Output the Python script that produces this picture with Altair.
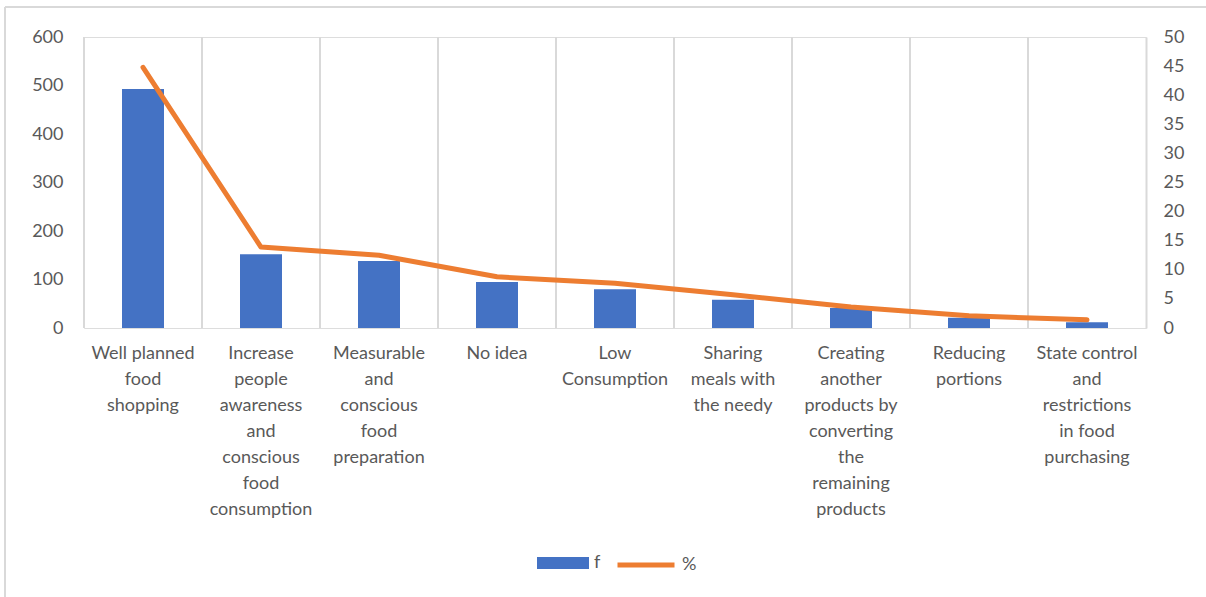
import altair as alt
import pandas as pd

categories = [
    "Well planned\nfood\nshopping",
    "Increase\npeople\nawareness\nand\nconscious\nfood\nconsumption",
    "Measurable\nand\nconscious\nfood\npreparation",
    "No idea",
    "Low\nConsumption",
    "Sharing\nmeals with\nthe needy",
    "Creating\nanother\nproducts by\nconverting\nthe\nremaining\nproducts",
    "Reducing\nportions",
    "State control\nand\nrestrictions\nin food\npurchasing",
]
f_values = [493, 152, 138, 95, 80, 58, 41, 21, 12]
pct_values = [44.8, 13.9, 12.5, 8.8, 7.7, 5.7, 3.6, 2.1, 1.4]
left_ticks = [0, 100, 200, 300, 400, 500, 600]
right_ticks = [0, 5, 10, 15, 20, 25, 30, 35, 40, 45, 50]

BLUE = "#4472C4"
ORANGE = "#ED7D31"
GRID = "#D9D9D9"
TEXT = "#595959"
FONT = "Lato"

df = pd.DataFrame({
    "cat": categories,
    "f": f_values,
    "pct": pct_values,
    "s1": ["f"] * len(categories),
    "s2": ["%"] * len(categories),
})
frame_df = pd.DataFrame({"k": [0]})

xenc = alt.X(
    "cat:N", sort=categories, title=None,
    scale=alt.Scale(paddingInner=0, paddingOuter=0),
    axis=alt.Axis(labelExpr="split(datum.value, '\\n')", labelAngle=0,
                  labelAlign="center",
                  labelFontSize=18, labelLineHeight=26, labelPadding=16,
                  labelBaseline="top", domain=False, ticks=False, grid=False,
                  labelColor=TEXT, labelFont=FONT, labelLimit=200),
)

bar_legend = alt.Legend(
    title=None, orient="none", direction="horizontal",
    legendX=453, legendY=500,
    symbolType="M-1,-0.23H1V0.23H-1Z", symbolSize=2704,
    symbolStrokeWidth=0, symbolOpacity=1,
    labelFontSize=18, labelColor=TEXT, labelFont=FONT, labelOffset=5,
    padding=0,
)
line_legend = alt.Legend(
    title=None, orient="none", direction="horizontal",
    legendX=531, legendY=497,
    symbolType="stroke", symbolSize=3249, symbolStrokeWidth=5, symbolOpacity=1,
    labelFontSize=18, labelColor=TEXT, labelFont=FONT, labelOffset=5,
    padding=0,
)

grid = alt.Chart(df).mark_rule(color=GRID, strokeWidth=2).encode(
    x=alt.X("cat:N", sort=categories, bandPosition=0),
)

frame_top = alt.Chart(frame_df).mark_rule(color=GRID, strokeWidth=2).encode(
    x=alt.value(-79), x2=alt.value(1122), y=alt.value(-30),
)
frame_left = alt.Chart(frame_df).mark_rule(color=GRID, strokeWidth=2).encode(
    x=alt.value(-79), y=alt.value(-30), y2=alt.value(560),
)

bars = alt.Chart(df).mark_bar(size=42).encode(
    x=xenc,
    y=alt.Y("f:Q", title=None,
            scale=alt.Scale(domain=[0, 600]),
            axis=alt.Axis(values=left_ticks, grid=False, domain=False, ticks=False,
                          labelFontSize=18, labelColor=TEXT, labelFont=FONT,
                          labelPadding=21)),
    color=alt.Color("s1:N", scale=alt.Scale(domain=["f"], range=[BLUE]),
                    legend=bar_legend),
)

left = alt.layer(frame_top, frame_left, grid, bars)

line = alt.Chart(df).mark_line(strokeWidth=5, strokeCap="round", strokeJoin="round").encode(
    x=alt.X("cat:N", sort=categories),
    y=alt.Y("pct:Q", title=None,
            scale=alt.Scale(domain=[0, 50]),
            axis=alt.Axis(values=right_ticks, grid=False, domain=True,
                          domainColor=GRID, domainWidth=2, ticks=False,
                          labelFontSize=18, labelColor=TEXT, labelFont=FONT,
                          labelPadding=17, orient="right")),
    stroke=alt.Stroke("s2:N", scale=alt.Scale(domain=["%"], range=[ORANGE]),
                      legend=line_legend),
)

chart = alt.layer(left, line).resolve_scale(y="independent").properties(
    width=1062, height=291,
    autosize=alt.AutoSizeParams(type="none"),
    padding={"left": 84, "top": 37, "right": 60, "bottom": 269},
).configure_view(stroke=None).configure(background="white")

chart.save("out.html", embed_options={"renderer": "svg", "actions": False})
